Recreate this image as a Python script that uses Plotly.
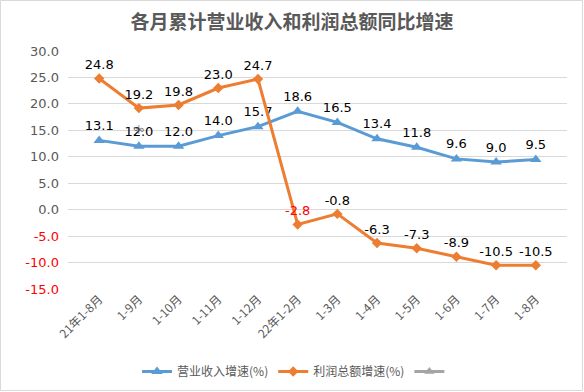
import plotly.graph_objects as go

categories = ["21年1-8月", "1-9月", "1-10月", "1-11月", "1-12月", "22年1-2月",
              "1-3月", "1-4月", "1-5月", "1-6月", "1-7月", "1-8月"]
revenue = [13.1, 12.0, 12.0, 14.0, 15.7, 18.6, 16.5, 13.4, 11.8, 9.6, 9.0, 9.5]
profit = [24.8, 19.2, 19.8, 23.0, 24.7, -2.8, -0.8, -6.3, -7.3, -8.9, -10.5, -10.5]
profit_label_colors = ["black"] * 5 + ["red"] + ["black"] * 6
ytick_vals = [30, 25, 20, 15, 10, 5, 0, -5, -10, -15]

FONT = "DejaVu Sans, Noto Sans CJK SC, sans-serif"
CJK = "Noto Sans CJK SC, DejaVu Sans, sans-serif"

L, R, T, B = 68, 17, 51, 103
PW, PH = 584 - L - R, 392 - T - B

fig = go.Figure()
fig.add_trace(go.Scatter(
    x=categories, y=revenue, name="营业收入增速(%)",
    mode="lines+markers+text", text=[f"{v:.1f}" for v in revenue],
    textposition="top center", textfont=dict(color="black", size=13, family=FONT),
    line=dict(color="#5B9BD5", width=3),
    marker=dict(symbol="triangle-up", size=10, color="#5B9BD5"),
    cliponaxis=False))
fig.add_trace(go.Scatter(
    x=categories, y=profit, name="利润总额增速(%)",
    mode="lines+markers+text", text=[f"{v:.1f}" for v in profit],
    textposition="top center", textfont=dict(color=profit_label_colors, size=13, family=FONT),
    line=dict(color="#ED7D31", width=3),
    marker=dict(symbol="diamond", size=8, color="#ED7D31"),
    cliponaxis=False))
fig.add_trace(go.Scatter(
    x=[None], y=[None], name=" ", mode="lines+markers",
    line=dict(color="#A5A5A5", width=3),
    marker=dict(symbol="triangle-up", size=9, color="#A5A5A5")))

ticktext = []
for v in ytick_vals:
    s = f"{v:.1f}"
    if v < 0:
        ticktext.append(f"<span style='color:red'>{s}</span>")
    else:
        ticktext.append(s)

fig.update_layout(
    width=584, height=392,
    margin=dict(l=L, r=R, t=T, b=B, autoexpand=False),
    paper_bgcolor="white", plot_bgcolor="white",
    title=dict(text="<b>各月累计营业收入和利润总额同比增速</b>", x=0.5, xanchor="center",
               y=0.944, yanchor="middle",
               font=dict(family=CJK, size=19, color="#595959")),
    showlegend=True,
    legend=dict(orientation="h", x=0.46, xanchor="center", y=-68 / PH, yanchor="top",
                font=dict(family=CJK, size=12, color="#595959"),
                itemwidth=30, tracegroupgap=0),
    xaxis=dict(type="category", tickangle=-45, showgrid=False, showline=False,
               tickfont=dict(family=CJK, size=12, color="#595959"), ticks=""),
    yaxis=dict(range=[-15, 30], tickvals=ytick_vals, ticktext=ticktext,
               showgrid=True, gridcolor="#D9D9D9", gridwidth=1, zeroline=False,
               tickfont=dict(family=FONT, size=13, color="#595959"), ticks="",
               ticklabelstandoff=8),
    shapes=[dict(type="rect", xref="paper", yref="paper",
                 x0=-(L - 0.5) / PW, x1=1 + (R - 1.5) / PW,
                 y0=-(B - 1.5) / PH, y1=1 + (T - 0.5) / PH,
                 line=dict(color="#D9D9D9", width=1))],
)
fig.add_annotation(x=categories[1], y=15.2, text="%", showarrow=False,
                   font=dict(family=FONT, size=10, color="#595959"), textangle=-30)

fig.write_html("out.html", config={"displayModeBar": False},
               post_script="document.body.style.margin='0';document.body.style.overflow='hidden';")
